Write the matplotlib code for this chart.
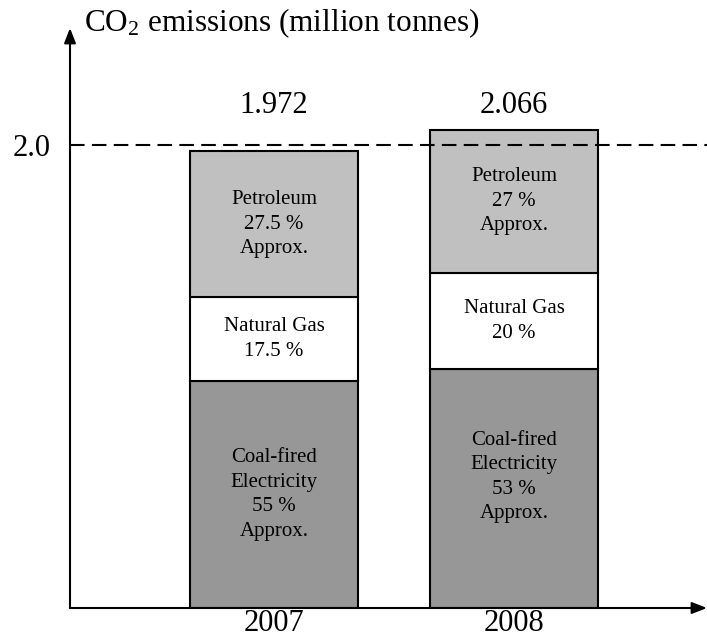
import matplotlib
matplotlib.use("Agg")
import matplotlib.pyplot as plt

plt.rcParams['font.family'] = ['Liberation Serif', 'DejaVu Serif']
plt.rcParams['mathtext.default'] = 'regular'

years = ["2007", "2008"]
totals = [1.972, 2.066]
# segment heights as drawn (million tonnes)
coal = [0.98, 1.032]
gas = [0.363, 0.415]
petroleum = [0.629, 0.619]
coal_labels = ["Coal-fired\nElectricity\n55 %\nApprox.", "Coal-fired\nElectricity\n53 %\nApprox."]
gas_labels = ["Natural Gas\n17.5 %", "Natural Gas\n20 %"]
petro_labels = ["Petroleum\n27.5 %\nApprox.", "Petroleum\n27 %\nApprox."]
ref_level = 2.0

W, H = 707, 639
fig = plt.figure(figsize=(W / 100, H / 100), dpi=100)
# axes box in pixels: left 70, bottom y=608 (from top), top y=28
ax = fig.add_axes([70 / W, (H - 608) / H, (W - 70) / W, (608 - 28) / H])
ax.set_xlim(-0.85, -0.85 + 637 / 240)
ax.set_ylim(0, 580 / 231.5)

x = [0, 1]
w = 0.7
ec = dict(edgecolor='black', linewidth=1.5)
ax.bar(x, coal, w, color='#979797', **ec, zorder=3)
bottom2 = [c for c in coal]
ax.bar(x, gas, w, bottom=bottom2, color='white', **ec, zorder=3)
bottom3 = [c + g for c, g in zip(coal, gas)]
ax.bar(x, petroleum, w, bottom=bottom3, color='#c0c0c0', **ec, zorder=3)

fs = 15
ls = 1.4
coal_shift = [0, 0.05]
for i in range(2):
    ax.text(x[i], coal[i] / 2 + coal_shift[i], coal_labels[i], ha='center', va='center',
            fontsize=fs, linespacing=ls, zorder=4)
    ax.text(x[i], bottom2[i] + gas[i] / 2, gas_labels[i], ha='center', va='center',
            fontsize=fs, linespacing=ls, zorder=4)
    ax.text(x[i], bottom3[i] + petroleum[i] / 2, petro_labels[i], ha='center', va='center',
            fontsize=fs, linespacing=ls, zorder=4)
    ax.text(x[i], 2.11, f"{totals[i]:.3f}", ha='center', va='bottom', fontsize=22)

ax.axhline(ref_level, color='black', lw=1.5, ls=(0, (7, 3.5)), zorder=5, clip_on=False)

for s in ax.spines.values():
    s.set_visible(False)
ax.set_xticks(x)
ax.set_xticklabels(years, fontsize=22)
ax.set_yticks([ref_level])
ax.set_yticklabels(["2.0"], fontsize=22)
ax.tick_params(axis='x', length=0, pad=1)
ax.tick_params(axis='y', length=0, pad=14)

# axis arrows
arrow = dict(arrowstyle='-|>,head_length=0.9,head_width=0.35', color='black', lw=1.5,
             shrinkA=0, shrinkB=0)
ax.annotate('', xy=(0, 1.0), xytext=(0, 0), xycoords='axes fraction',
            arrowprops=arrow, annotation_clip=False)
ax.annotate('', xy=(1.0, 0), xytext=(0, 0), xycoords='axes fraction',
            arrowprops=arrow, annotation_clip=False)

fig.text(84 / W, 1 - 23 / H, "CO$_2$ emissions (million tonnes)", ha='left', va='center',
         fontsize=22.5)

fig.savefig("out.png", dpi=100)
